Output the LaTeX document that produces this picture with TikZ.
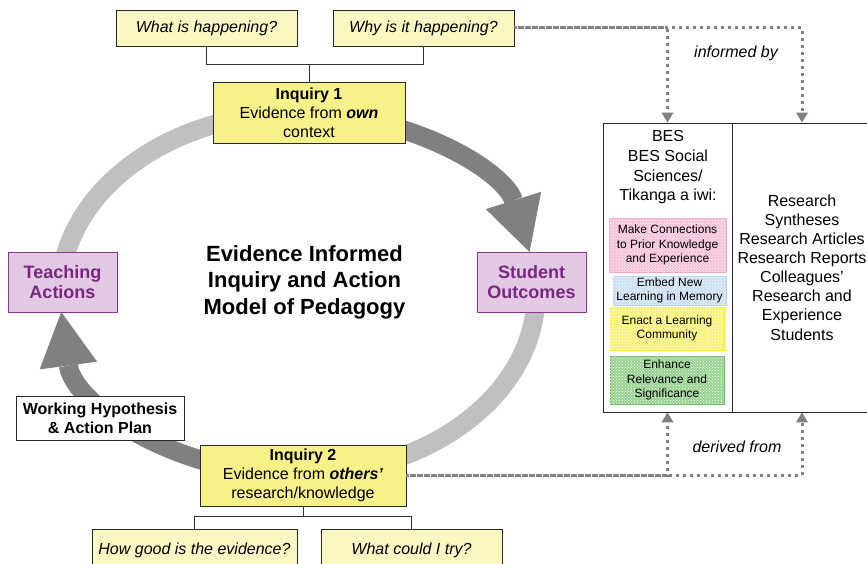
\documentclass[tikz,border=0pt]{standalone}
\usepackage{fontspec}
\setmainfont{Liberation Sans}
\usetikzlibrary{calc}
\usetikzlibrary{patterns}
\usetikzlibrary{arrows.meta}

\definecolor{askfill}{HTML}{FBF7C3}
\definecolor{inqfill}{HTML}{F7F18A}
\definecolor{lilac}{HTML}{E2C9E4}
\definecolor{plum}{HTML}{8A3590}
\definecolor{plumtext}{HTML}{7B2782}
\definecolor{ringdark}{HTML}{808080}
\definecolor{ringlight}{HTML}{C0C0C0}
\definecolor{bespink}{HTML}{F3A6C6}
\definecolor{besblue}{HTML}{B5D3F0}
\definecolor{besyellow}{HTML}{F4EE3C}
\definecolor{besgreen}{HTML}{6CC061}

\begin{document}
\begin{tikzpicture}[x=1pt,y=1pt,
                    box/.style={draw=black!85,line width=0.8,fill=white,inner sep=0,align=center,font=\fontsize{16}{19}\selectfont},
                    ask/.style={box,fill=askfill,minimum height=36,font=\fontsize{16}{19}\selectfont\itshape},
                    inquiry/.style={box,fill=inqfill,minimum height=61},
                    actbox/.style={draw=plum,line width=0.8,fill=lilac,text=plumtext,inner sep=0,minimum width=109,minimum height=60,align=center,font=\fontsize{18}{20.5}\selectfont\bfseries},
                    tikanga/.style={draw=#1,line width=0.8,fill=#1!70,postaction={pattern=crosshatch dots,pattern color=white},inner sep=0,align=center,font=\fontsize{12}{14.5}\selectfont},
                    ringsize/.style={x radius=\rx,y radius=\ry},
                    lightring/.style={draw=ringlight,line width=\rw},
                    darkring/.style={draw=ringdark,line width=\rw,-{Triangle[length=54pt,width=58pt,line width=0pt]}},
                    bracket/.style={draw=black!80,line width=0.8},
                    evidence/.style={draw=ringdark,line width=3,dash pattern=on 3pt off 4pt,-{Triangle[length=10pt,width=12pt,line width=0pt]}}
                    ]
    \def\rx{238pt}    % ring x radius
    \def\ry{180.75pt} % ring y radius
    \def\rw{19}       % ring width
    \useasboundingbox (0,0) rectangle (867,564);

    % cycle ring
    \coordinate (ctr) at (298,270.25);
    \coordinate (ringN) at ($(ctr)+(0,\ry)$);
    \coordinate (ringS) at ($(ctr)-(0,\ry)$);
    \coordinate (ringW) at ($(ctr)-(\rx,0)$);
    \coordinate (ringE) at ($(ctr)+(\rx,0)$);
    \foreach \p/\a/\b in {ringW/180/90,ringE/0/-90}
        \draw[lightring] (\p) arc[start angle=\a,end angle=\b,ringsize];
    \draw[darkring] (ringN) arc[start angle=90,end angle=13.35,ringsize];
    \draw[darkring] (ringS) arc[start angle=270,end angle=185.8,ringsize];

    % model
    \node[ask,minimum width=181] (what) at (206.5,536) {What is happening?};
    \node[ask,minimum width=181] (why) at (423.5,536) {Why is it happening?};
    \node[inquiry,minimum width=192] (inq1) at (309,451.5) {\textbf{Inquiry 1}\\Evidence from \textbf{\textit{own}}\\context};
    \node[actbox] (teach) at (62.5,282) {Teaching\\Actions};
    \node[actbox] (outc) at (531.5,282) {Student\\Outcomes};
    \node[align=center,font=\fontsize{22}{26.5}\selectfont\bfseries] (title) at (304.5,282) {Evidence Informed\\Inquiry and Action\\Model of Pedagogy};
    \node[box,minimum width=168,minimum height=44,font=\fontsize{16}{19}\selectfont\bfseries] (hypo) at (100,146) {Working Hypothesis\\\& Action Plan};
    \node[inquiry,minimum width=206] (inq2) at (303,88.5) {\textbf{Inquiry 2}\\Evidence from \textbf{\textit{others’}}\\research/knowledge};
    \node[ask,minimum width=205,minimum height=42] (good) at (194.5,14) {How good is the evidence?};
    \node[ask,minimum width=181,minimum height=42] (tryit) at (411.5,14) {What could I try?};

    % sources
    \node[box,minimum width=129,minimum height=289] (bes) at (667.5,296.5) {};
    \node[box,minimum width=140,minimum height=289,font=\fontsize{16}{19.1}\selectfont] (res) at (802,296.5) {Research\\Syntheses\\Research Articles\\Research Reports\\Colleagues’\\Research and\\Experience\\Students};
    \node[align=center,font=\fontsize{16}{19.7}\selectfont] (beshead) at (668,396.5) {BES\\BES Social\\Sciences/\\Tikanga a iwi:};
    \node[tikanga=bespink,minimum width=117,minimum height=54] (connect) at (667.5,319) {Make Connections\\to Prior Knowledge\\and Experience};
    \node[tikanga=besblue,minimum width=113,minimum height=29] (embed) at (669.5,273.5) {Embed New\\Learning in Memory};
    \node[tikanga=besyellow,minimum width=114,minimum height=43] (enact) at (667,235.5) {Enact a Learning\\Community};
    \node[tikanga=besgreen,minimum width=114,minimum height=48] (enhance) at (667,184) {Enhance\\Relevance and\\Significance};

    % connectors
    \draw[bracket] (what.south) -- ++(0,-18) -| (why.south);
    \draw[bracket] (inq1.north) -- ++(0,18);
    \draw[bracket] (inq2.south) -- ++(0,-11);
    \draw[bracket] (good.north) -- ++(0,12) -| (tryit.north);
    \foreach \col/\ph in {bes/0pt,res/3pt} {
        \draw[evidence,dash phase=\ph] (why.east) -| (\col.north);
        \draw[evidence,dash phase=\ph] (inq2.east) -| (\col.south);
    }
    \node[font=\fontsize{16}{19}\selectfont\itshape] (informed) at (736,511) {informed by};
    \node[font=\fontsize{16}{19}\selectfont\itshape] (derived) at (737,117) {derived from};
\end{tikzpicture}
\end{document}
